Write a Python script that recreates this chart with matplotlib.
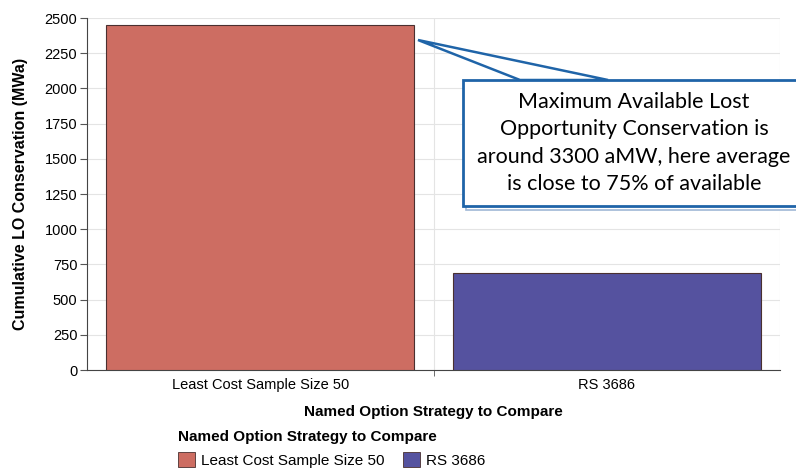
import matplotlib.pyplot as plt
from matplotlib.patches import Polygon, Patch

strategies = ["Least Cost Sample Size 50", "RS 3686"]
lo_conservation = [2450, 690]
bar_colors = ["#cd6d62", "#55529f"]
yticks = [0, 250, 500, 750, 1000, 1250, 1500, 1750, 2000, 2250, 2500]

plt.rcParams['font.family'] = ['Liberation Sans', 'DejaVu Sans']

fig = plt.figure(figsize=(7.96, 4.72), dpi=100)
ax = fig.add_axes([87/796, 1 - 370/472, 693/796, 352/472])

x = range(len(strategies))
ax.bar(x, lo_conservation, width=0.89, color=bar_colors, edgecolor="#4a3030", linewidth=0.8, zorder=3)

ax.set_xlim(-0.5, 1.5)
ax.set_ylim(0, 2500)
ax.set_yticks(yticks)
ax.set_yticklabels([str(v) for v in yticks], fontsize=10.5)
ax.set_xticks([0, 1])
ax.set_xticklabels(strategies, fontsize=10.5)
ax.set_xticks([0.5], minor=True)
ax.tick_params(axis='x', which='major', length=0, pad=6)
ax.tick_params(axis='x', which='minor', length=4, color="#555555")
ax.tick_params(axis='y', length=5, color="#555555", pad=2)

ax.grid(axis='y', color="#e4e4e4", linewidth=0.8, zorder=0)
ax.axvline(0.5, color="#e4e4e4", linewidth=0.8, zorder=0)
ax.axvline(1.5, color="#e4e4e4", linewidth=0.8, zorder=0)
for s in ['top', 'right']:
    ax.spines[s].set_visible(False)
ax.spines['left'].set_color("#444444")
ax.spines['bottom'].set_color("#444444")

ax.set_ylabel("Cumulative LO Conservation (MWa)", fontsize=11.5, fontweight='bold', labelpad=12)
ax.set_xlabel("Named Option Strategy to Compare", fontsize=11, fontweight='bold', labelpad=9)

# legend below the chart
handles = [Patch(facecolor=c, edgecolor="#4a3030", linewidth=0.6) for c in bar_colors]
leg = fig.legend(handles, strategies, loc='upper left', bbox_to_anchor=(178/796, 1 - 430/472),
                 ncol=2, frameon=False, fontsize=11, title="Named Option Strategy to Compare",
                 title_fontproperties={'weight': 'bold', 'size': 11},
                 handlelength=1.1, handleheight=1.1, handletextpad=0.4, columnspacing=1.2,
                 borderaxespad=0, borderpad=0)
leg._legend_box.align = "left"
leg._legend_box.sep = 6

# callout box with pointer
blue = "#1f64a8"
wedge = Polygon([(418/796, 1 - 40/472), (520/796, 1 - 80/472), (608/796, 1 - 80/472)],
                closed=True, transform=fig.transFigure, facecolor="white",
                edgecolor=blue, linewidth=1.8, zorder=6)
fig.patches.append(wedge)
box_shadow = plt.Rectangle((466/796, 1 - 210/472), 340/796, 128/472, transform=fig.transFigure,
                           facecolor="white", edgecolor="#9fb8d6", linewidth=1.2, zorder=5)
box = plt.Rectangle((463/796, 1 - 206/472), 340/796, 126/472, transform=fig.transFigure,
                    facecolor="white", edgecolor=blue, linewidth=2, zorder=7)
fig.patches.append(box_shadow)
fig.patches.append(box)
fig.text(634/796, 1 - 143/472,
         "Maximum Available Lost\nOpportunity Conservation is\naround 3300 aMW, here average\nis close to 75% of available",
         ha='center', va='center', fontsize=15.5, family=['Lato', 'DejaVu Sans'],
         linespacing=1.45, zorder=8)

fig.savefig("out.png", dpi=100)
